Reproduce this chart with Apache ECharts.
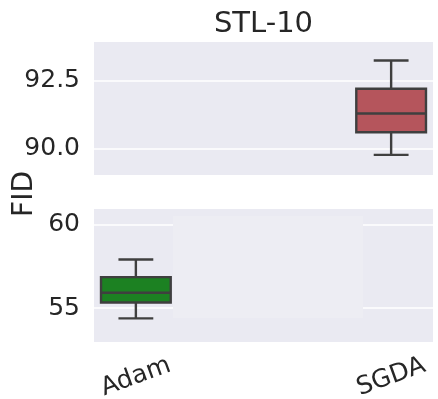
<!DOCTYPE html>
<html>
<head>
<meta charset="utf-8">
<script src="https://cdn.jsdelivr.net/npm/echarts@6/dist/echarts.min.js"></script>
<style>
  html, body { margin: 0; padding: 0; background: #ffffff; }
  #chart { width: 438px; height: 399px; }
</style>
</head>
<body>
<div id="chart"></div>
<script>
// Optimiser names and their positions along the x axis
const methods = ['Adam', 'SGDA'];
const methodPos = [0, 1];

// FID five-number summaries: [min, Q1, median, Q3, max]
const adamFid = [54.38, 55.34, 55.92, 56.86, 57.92];
const sgdaFid = [89.78, 90.61, 91.30, 92.21, 93.25];

// Broken y axis: upper and lower segments
const upperRange = [89.04, 93.93];
const lowerRange = [52.96, 60.96];
const upperTicks = [90.0, 92.5];
const lowerTicks = [55, 60];

const xRange = [-0.164, 1.164];

const TEXT = '#262626';
const EDGE = '#3f3f3f';
const PANEL = '#EAEAF2';
const FONT = 'DejaVu Sans';
const BOX_W = 0.273;   // box width in x-axis units

function renderBox(params, api) {
  const x = api.value(0);
  const lo = api.coord([x, api.value(1)]);
  const q1 = api.coord([x, api.value(2)]);
  const md = api.coord([x, api.value(3)]);
  const q3 = api.coord([x, api.value(4)]);
  const hi = api.coord([x, api.value(5)]);
  const w = api.size([BOX_W, 0])[0];
  const cx = q1[0];
  const line = { stroke: EDGE, lineWidth: 2.4 };
  return {
    type: 'group',
    children: [
      { type: 'line', shape: { x1: cx, y1: lo[1], x2: cx, y2: q1[1] }, style: line },
      { type: 'line', shape: { x1: cx, y1: q3[1], x2: cx, y2: hi[1] }, style: line },
      { type: 'line', shape: { x1: cx - w / 4, y1: lo[1], x2: cx + w / 4, y2: lo[1] }, style: line },
      { type: 'line', shape: { x1: cx - w / 4, y1: hi[1], x2: cx + w / 4, y2: hi[1] }, style: line },
      { type: 'rect', shape: { x: cx - w / 2, y: q3[1], width: w, height: q1[1] - q3[1] },
        style: { fill: api.visual('color'), stroke: EDGE, lineWidth: 2.4 } },
      { type: 'line', shape: { x1: cx - w / 2, y1: md[1], x2: cx + w / 2, y2: md[1] }, style: line }
    ]
  };
}

function yAxisFor(range, ticks, gridIndex, fmt) {
  return {
    type: 'value', gridIndex: gridIndex,
    min: range[0], max: range[1],
    axisLine: { show: false },
    axisTick: { show: false, customValues: ticks },
    axisLabel: { customValues: ticks, formatter: fmt, fontSize: 25, fontFamily: FONT, color: TEXT, margin: 14 },
    splitLine: { show: true, lineStyle: { color: '#ffffff', width: 1.5 } }
  };
}

function xAxisFor(gridIndex, showLabels) {
  return {
    type: 'value', gridIndex: gridIndex,
    min: xRange[0], max: xRange[1],
    axisLine: { show: false },
    axisTick: { show: false, customValues: methodPos },
    splitLine: { show: false },
    axisLabel: showLabels ? {
      customValues: methodPos,
      formatter: v => methods[methodPos.indexOf(Math.round(v))] || '',
      rotate: 20, align: 'center', verticalAlign: 'middle',
      margin: 35, fontSize: 25, fontFamily: FONT, color: TEXT
    } : { show: false }
  };
}

const chart = echarts.init(document.getElementById('chart'), null, { renderer: 'canvas' });
chart.setOption({
  animation: false,
  backgroundColor: '#ffffff',
  grid: [
    { left: 94, top: 42, width: 339, height: 133, show: true, backgroundColor: PANEL, borderWidth: 0,
      outerBoundsMode: 'none', containLabel: false },
    { left: 94, top: 209, width: 339, height: 133, show: true, backgroundColor: PANEL, borderWidth: 0,
      outerBoundsMode: 'none', containLabel: false }
  ],
  xAxis: [xAxisFor(0, false), xAxisFor(1, true)],
  yAxis: [
    yAxisFor(upperRange, upperTicks, 0, v => v.toFixed(1)),
    yAxisFor(lowerRange, lowerTicks, 1, v => String(v))
  ],
  series: [
    {
      type: 'custom', name: 'SGDA', xAxisIndex: 0, yAxisIndex: 0,
      renderItem: renderBox, itemStyle: { color: '#B5555C' },
      encode: { x: 0, y: [1, 2, 3, 4, 5] },
      data: [[methodPos[1]].concat(sgdaFid)], z: 3
    },
    {
      type: 'custom', name: 'Adam', xAxisIndex: 1, yAxisIndex: 1,
      renderItem: renderBox, itemStyle: { color: '#1C8122' },
      encode: { x: 0, y: [1, 2, 3, 4, 5] },
      data: [[methodPos[0]].concat(adamFid)], z: 3
    }
  ],
  graphic: [
    { type: 'text', x: 263.5, y: 24, z: 10,
      style: { text: 'STL-10', fontSize: 29, fontFamily: FONT, fill: TEXT, align: 'center', verticalAlign: 'middle' } },
    { type: 'text', x: 25, y: 194, rotation: Math.PI / 2, z: 10,
      style: { text: 'FID', fontSize: 28, fontFamily: FONT, fill: TEXT, align: 'center', verticalAlign: 'middle' } },
    // empty legend frame
    { type: 'rect', z: 5, shape: { x: 173, y: 216, width: 190, height: 102 },
      style: { fill: '#EDEDF3' } }
  ]
});
</script>
</body>
</html>
